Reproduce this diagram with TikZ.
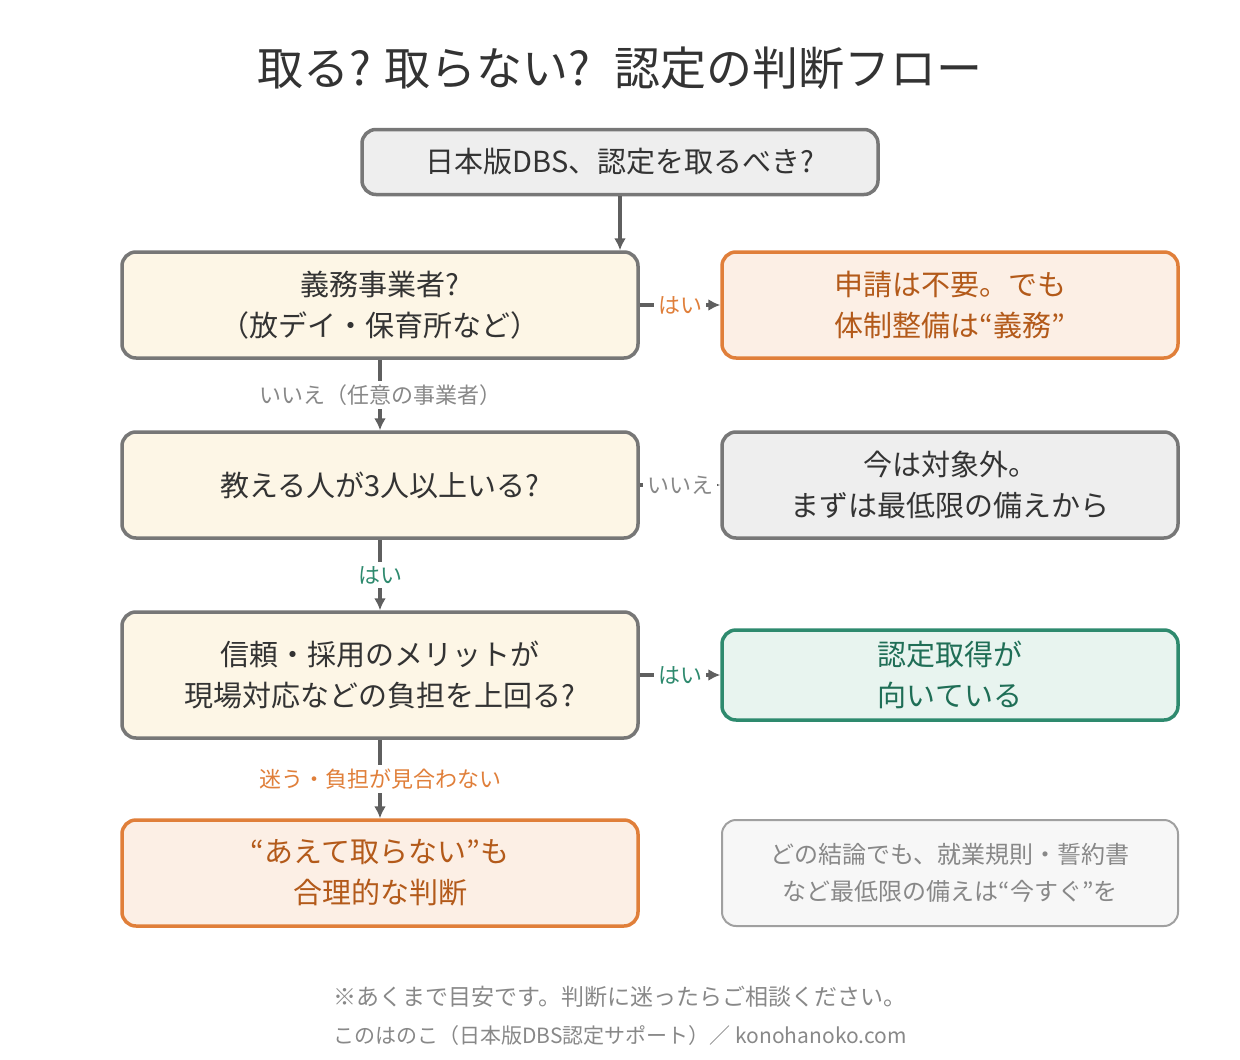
\documentclass[tikz,border=0pt]{standalone}
\usepackage{fontspec}
\setmainfont{Noto Sans CJK JP}
\usetikzlibrary{arrows.meta}
\definecolor{bd}{HTML}{777777}
\definecolor{gfill}{HTML}{EEEEEE}
\definecolor{yfill}{HTML}{FDF6E6}
\definecolor{ofill}{HTML}{FCEFE5}
\definecolor{obd}{HTML}{E07F3A}
\definecolor{otx}{HTML}{B35A1A}
\definecolor{gnbd}{HTML}{2E8A6E}
\definecolor{gnfill}{HTML}{E8F4EF}
\definecolor{gntx}{HTML}{1F6E56}
\definecolor{txt}{HTML}{333333}
\definecolor{lab}{HTML}{888888}
\begin{document}
\begin{tikzpicture}[x=1pt,y=-1pt,
 box/.style={draw=bd,line width=3.5pt,rounded corners=14pt,align=center,font=\fontsize{29}{41}\selectfont,text=txt,inner sep=0pt},
 arr/.style={draw=bd!80!black,line width=3.5pt,-{Latex[length=12pt,width=12pt]}},
 lb/.style={fill=white,font=\fontsize{22}{26}\selectfont,inner sep=4pt}]
\useasboundingbox (0,0) rectangle (1240,1060);
\node[font=\fontsize{46}{52}\selectfont,text=txt] (title) at (620,68) {取る? 取らない? \ 認定の判断フロー};
\node[box,fill=gfill,minimum width=516pt,minimum height=65pt] (top) at (620,162) {日本版DBS、認定を取るべき?};
\node[box,fill=yfill,minimum width=516pt,minimum height=106pt] (q1) at (380,305) {義務事業者?\\（放デイ・保育所など）};
\node[box,fill=yfill,minimum width=516pt,minimum height=106pt] (q2) at (380,485) {教える人が3人以上いる?};
\node[box,fill=yfill,minimum width=516pt,minimum height=126pt] (q3) at (380,675) {信頼・採用のメリットが\\現場対応などの負担を上回る?};
\node[box,draw=obd,fill=ofill,text=otx,minimum width=516pt,minimum height=106pt] (q4) at (380,873) {“あえて取らない”も\\合理的な判断};
\node[box,draw=obd,fill=ofill,text=otx,minimum width=456pt,minimum height=106pt] (r1) at (950,305) {申請は不要。でも\\体制整備は“義務”};
\node[box,fill=gfill,minimum width=456pt,minimum height=106pt] (r2) at (950,485) {今は対象外。\\まずは最低限の備えから};
\node[box,draw=gnbd,fill=gnfill,text=gntx,minimum width=456pt,minimum height=90pt] (r3) at (950,675) {認定取得が\\向いている};
\node[box,draw=lab!80,line width=2pt,fill=white!97!black,text=lab,minimum width=456pt,minimum height=106pt,font=\fontsize{24}{37}\selectfont] (r4) at (950,873) {どの結論でも、就業規則・誓約書\\など最低限の備えは“今すぐ”を};
\draw[arr] (top.south) -- (top.south |- q1.north);
\draw[arr] (q1) -- node[lb,text=lab]{いいえ（任意の事業者）} (q2);
\draw[arr] (q2) -- node[lb,text=gnbd]{はい} (q3);
\draw[arr] (q3) -- node[lb,text=obd]{迷う・負担が見合わない} (q4);
\draw[arr] (q1) -- node[lb,text=obd]{はい} (r1);
\draw[arr] (q2) -- node[lb,text=lab]{いいえ} (r2);
\draw[arr] (q3) -- node[lb,text=gnbd]{はい} (r3);
\node[font=\fontsize{23}{27}\selectfont,text=lab] (f1) at (620,997) {※あくまで目安です。判断に迷ったらご相談ください。};
\node[font=\fontsize{21}{25}\selectfont,text=lab] (f2) at (620,1036) {このはのこ（日本版DBS認定サポート）／ konohanoko.com};
\end{tikzpicture}
\end{document}
